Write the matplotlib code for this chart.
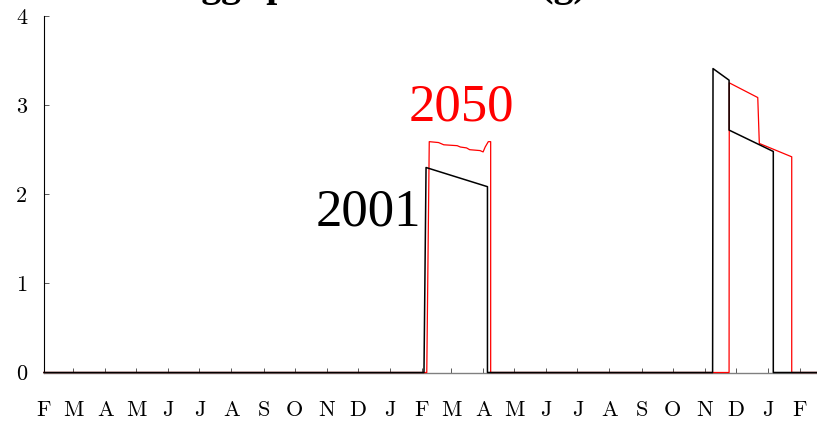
import numpy as np
import matplotlib
matplotlib.use('Agg')
import matplotlib.pyplot as plt

# ── data (days counted from 1 February of the first year) ──────────────
month_labels = ['F', 'M', 'A', 'M', 'J', 'J', 'A', 'S', 'O', 'N', 'D', 'J',
                'F', 'M', 'A', 'M', 'J', 'J', 'A', 'S', 'O', 'N', 'D', 'J', 'F']
month_lengths = [28, 31, 30, 31, 30, 31, 31, 30, 31, 30, 31, 31,
                 28, 31, 30, 31, 30, 31, 31, 30, 31, 30, 31, 31]

day_2001 = [0, 366.9, 368.9, 428.2, 428.2, 645.6, 646.0, 661.5, 661.5, 704.2, 704.2, 747]
val_2001 = [0, 0, 2.30, 2.085, 0, 0, 3.41, 3.28, 2.72, 2.48, 0, 0]

day_2050 = [0, 369.6, 372.0, 381, 386, 399, 402, 408, 411, 421, 424, 426, 429, 431.3,
            431.3, 661.5, 661.7, 689.2, 690.7, 722.0, 722.0, 747]
val_2050 = [0, 0, 2.59, 2.58, 2.555, 2.545, 2.53, 2.52, 2.50, 2.49, 2.475, 2.53, 2.59, 2.59,
            0, 0, 3.25, 3.085, 2.57, 2.42, 0, 0]

title = 'Eggs production rate (g)'

# ── figure ──────────────────────────────────────────────────────────────
fig = plt.figure(figsize=(8.17, 4.21), dpi=100)
ax = fig.add_axes([44 / 817, 48.5 / 421, 1 - 44 / 817, (405 - 48.5) / 421])

ax.plot(day_2050, val_2050, color='red', lw=0.9, clip_on=False, zorder=3)
ax.plot(day_2001, val_2001, color='black', lw=1.1, clip_on=False, zorder=4)

ax.text(364, 1.65, '2001', fontsize=38, family='Liberation Serif',
        ha='right', va='baseline', color='black')
ax.text(403.1, 2.826, '2050', fontsize=38, family='Liberation Serif',
        ha='center', va='baseline', color='red')

# title sits mostly above the top edge, only its descenders show
fig.text(174.6 / 817, (421 + 4.5) / 421, title, fontsize=28.5,
         family='Liberation Serif', fontweight='bold', ha='left', va='baseline')

# axes
month_starts = np.concatenate([[0], np.cumsum(month_lengths)])
ax.set_xlim(0, 746.4)
ax.set_ylim(0, 4)
ax.set_xticks(month_starts)
ax.set_xticklabels(month_labels, fontfamily='cmr10', fontsize=16)
ax.set_yticks([0, 1, 2, 3, 4])
ax.set_yticklabels(['0', '1', '2', '3', '4'], fontfamily='cmr10', fontsize=16)

ax.spines['top'].set_visible(False)
ax.spines['right'].set_visible(False)
ax.spines['bottom'].set_color('#808080')
ax.spines['bottom'].set_linewidth(1.0)
ax.spines['left'].set_color('black')
ax.spines['left'].set_linewidth(0.8)

ax.tick_params(axis='x', direction='in', length=3.6, width=0.7, color='0.35', pad=20)
ax.tick_params(axis='y', direction='in', length=3.6, width=0.7, color='0.35', pad=12)

fig.savefig('out.png', dpi=100)
